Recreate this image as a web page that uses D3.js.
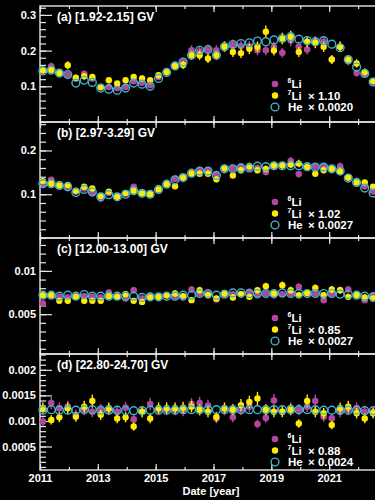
<!DOCTYPE html>
<html>
<head>
<meta charset="utf-8">
<script src="https://cdn.jsdelivr.net/npm/d3@7"></script>
<style>
  body { margin: 0; background: #000; }
  svg { display: block; }
  text { font-family: "Liberation Sans", Arial, sans-serif; font-weight: bold; fill: #fff; }
</style>
</head>
<body>
<div id="chart"></div>
<script>
// time of each averaging period (decimal year)
const dates = [
  2011.10, 2011.39, 2011.67, 2011.96, 2012.24, 2012.53, 2012.81, 2013.10, 2013.38, 2013.67,
  2013.96, 2014.24, 2014.53, 2014.81, 2015.10, 2015.38, 2015.67, 2015.95, 2016.24, 2016.52,
  2016.81, 2017.10, 2017.38, 2017.67, 2017.95, 2018.24, 2018.52, 2018.81, 2019.09, 2019.38,
  2019.67, 2019.95, 2020.24, 2020.52, 2020.81, 2021.09, 2021.38, 2021.66, 2021.95, 2022.23,
  2022.52
];

// (a) 1.92-2.15 GV
const li6A = [
  0.145, 0.156, 0.137, 0.133, 0.122, 0.135, 0.122, 0.097, 0.098, 0.095,
  0.098, 0.114, 0.110, 0.103, 0.126, 0.141, 0.158, 0.168, 0.201, 0.198,
  0.203, 0.201, 0.212, 0.216, 0.213, 0.212, 0.201, 0.201, 0.210, 0.194,
  0.228, 0.211, 0.203, 0.225, 0.225, 0.175, 0.211, 0.170, 0.137, 0.134,
  0.112
];
const li7A = [
  0.145, 0.146, 0.137, 0.159, 0.124, 0.128, 0.126, 0.098, 0.117, 0.108,
  0.117, 0.126, 0.122, 0.117, 0.131, 0.140, 0.157, 0.160, 0.187, 0.187,
  0.178, 0.187, 0.211, 0.196, 0.193, 0.205, 0.211, 0.253, 0.200, 0.234,
  0.239, 0.196, 0.225, 0.222, 0.211, 0.175, 0.211, 0.175, 0.164, 0.140,
  0.115
];
const heA = [
  0.143, 0.145, 0.137, 0.133, 0.109, 0.117, 0.111, 0.095, 0.092, 0.089,
  0.095, 0.109, 0.106, 0.100, 0.122, 0.139, 0.157, 0.168, 0.187, 0.201,
  0.203, 0.187, 0.211, 0.217, 0.220, 0.222, 0.227, 0.225, 0.230, 0.234,
  0.239, 0.232, 0.228, 0.225, 0.228, 0.218, 0.208, 0.175, 0.154, 0.136,
  0.112
];

// (b) 2.97-3.29 GV
const li6B = [
  0.127, 0.133, 0.120, 0.116, 0.106, 0.113, 0.103, 0.090, 0.103, 0.094,
  0.101, 0.117, 0.102, 0.100, 0.111, 0.123, 0.135, 0.138, 0.150, 0.155,
  0.155, 0.145, 0.158, 0.158, 0.163, 0.160, 0.160, 0.151, 0.163, 0.166,
  0.176, 0.146, 0.162, 0.163, 0.163, 0.158, 0.164, 0.138, 0.128, 0.118,
  0.106
];
const li7B = [
  0.130, 0.124, 0.120, 0.121, 0.108, 0.117, 0.113, 0.096, 0.106, 0.094,
  0.103, 0.108, 0.102, 0.100, 0.111, 0.123, 0.118, 0.138, 0.147, 0.147,
  0.147, 0.134, 0.160, 0.143, 0.155, 0.164, 0.155, 0.158, 0.166, 0.166,
  0.168, 0.170, 0.162, 0.147, 0.155, 0.158, 0.152, 0.138, 0.127, 0.127,
  0.117
];
const heB = [
  0.124, 0.124, 0.120, 0.117, 0.104, 0.111, 0.105, 0.094, 0.099, 0.094,
  0.100, 0.108, 0.102, 0.100, 0.111, 0.123, 0.133, 0.138, 0.148, 0.153,
  0.153, 0.143, 0.158, 0.158, 0.160, 0.160, 0.164, 0.163, 0.165, 0.165,
  0.165, 0.165, 0.163, 0.162, 0.162, 0.158, 0.153, 0.137, 0.127, 0.114,
  0.103
];

// (c) 12.00-13.00 GV
const li6C = [
  0.00623, 0.00719, 0.00700, 0.00693, 0.00708, 0.00708, 0.00700, 0.00693, 0.00750, 0.00708,
  0.00681, 0.00777, 0.00681, 0.00708, 0.00700, 0.00719, 0.00708, 0.00693, 0.00785, 0.00739,
  0.00739, 0.00670, 0.00731, 0.00731, 0.00731, 0.00758, 0.00719, 0.00739, 0.00719, 0.00731,
  0.00739, 0.00815, 0.00739, 0.00739, 0.00662, 0.00739, 0.00777, 0.00785, 0.00731, 0.00662,
  0.00719
];
const li7C = [
  0.00719, 0.00719, 0.00654, 0.00654, 0.00700, 0.00654, 0.00654, 0.00654, 0.00708, 0.00700,
  0.00731, 0.00654, 0.00642, 0.00693, 0.00700, 0.00719, 0.00739, 0.00708, 0.00662, 0.00777,
  0.00719, 0.00681, 0.00739, 0.00693, 0.00731, 0.00700, 0.00777, 0.00823, 0.00739, 0.00835,
  0.00777, 0.00719, 0.00746, 0.00804, 0.00719, 0.00785, 0.00777, 0.00700, 0.00719, 0.00693,
  0.00681
];
const heC = [
  0.00719, 0.00719, 0.00708, 0.00719, 0.00708, 0.00727, 0.00708, 0.00708, 0.00708, 0.00708,
  0.00708, 0.00708, 0.00693, 0.00700, 0.00700, 0.00708, 0.00708, 0.00719, 0.00719, 0.00739,
  0.00739, 0.00719, 0.00731, 0.00746, 0.00746, 0.00739, 0.00739, 0.00739, 0.00739, 0.00746,
  0.00739, 0.00739, 0.00739, 0.00739, 0.00739, 0.00739, 0.00731, 0.00727, 0.00719, 0.00708,
  0.00700
];

// (d) 22.80-24.70 GV
const li6D = [
  0.00099, 0.00135, 0.00125, 0.00128, 0.00112, 0.00122, 0.00118, 0.00122, 0.00122, 0.00118,
  0.00126, 0.00103, 0.00118, 0.00133, 0.00122, 0.00122, 0.00122, 0.00120, 0.00133, 0.00135,
  0.00130, 0.00105, 0.00122, 0.00107, 0.00122, 0.00128, 0.00094, 0.00106, 0.00140, 0.00118,
  0.00125, 0.00122, 0.00128, 0.00139, 0.00108, 0.00105, 0.00118, 0.00122, 0.00125, 0.00118,
  0.00118
];
const li7D = [
  0.00125, 0.00102, 0.00107, 0.00125, 0.00108, 0.00128, 0.00139, 0.00112, 0.00125, 0.00105,
  0.00107, 0.00089, 0.00118, 0.00105, 0.00125, 0.00125, 0.00125, 0.00126, 0.00128, 0.00122,
  0.00118, 0.00108, 0.00125, 0.00122, 0.00131, 0.00137, 0.00144, 0.00122, 0.00118, 0.00118,
  0.00122, 0.00095, 0.00139, 0.00118, 0.00115, 0.00092, 0.00125, 0.00128, 0.00115, 0.00105,
  0.00115
];
const heD = [
  0.00121, 0.00122, 0.00121, 0.00121, 0.00121, 0.00122, 0.00122, 0.00121, 0.00121, 0.00121,
  0.00120, 0.00120, 0.00120, 0.00121, 0.00121, 0.00121, 0.00121, 0.00122, 0.00122, 0.00122,
  0.00122, 0.00122, 0.00122, 0.00122, 0.00122, 0.00122, 0.00122, 0.00122, 0.00122, 0.00122,
  0.00122, 0.00122, 0.00122, 0.00122, 0.00121, 0.00121, 0.00121, 0.00121, 0.00121, 0.00120,
  0.00120
];

// relative error of the Li points in each panel
const relErr = [0.07, 0.05, 0.05, 0.09];

const panelLabels = ["(a) [1.92-2.15] GV", "(b) [2.97-3.29] GV", "(c) [12.00-13.00] GV", "(d) [22.80-24.70] GV"];
const li7Factors = ["1.10", "1.02", "0.85", "0.88"];
const heFactors = ["0.0020", "0.0027", "0.0027", "0.0024"];

const yearTicks = [2011, 2013, 2015, 2017, 2019, 2021, 2023];
const yearLabels = ["2011", "2013", "2015", "2017", "2019", "2021", "2023"];
const yTicks = [
  [0.1, 0.2, 0.3],
  [0.1, 0.2],
  [0.005, 0.01],
  [0.0005, 0.001, 0.0015, 0.002]
];
const yTickLabels = [
  ["0.1", "0.2", "0.3"],
  ["0.1", "0.2"],
  ["0.005", "0.01"],
  ["0.0005", "0.001", "0.0015", "0.002"]
];

const WIDTH = 375, HEIGHT = 500;
const LEFT = 40, RIGHT = 387;
const PANEL_TOP = 6, PANEL_H = 116;
const AXIS_COLOR = "#e6e6e6";
const C_LI6 = "#b3479f", C_LI7 = "#ffea00", C_HE = "#3fb3cc";
const R_LI6 = 3.3, R_LI7 = 3.2, R_HE = 3.9;

const panels = [
  { li6: li6A, li7: li7A, he: heA, domain: [0, 0.325], minor: 0.02, legendTop: 78 },
  { li6: li6B, li7: li7B, he: heB, domain: [0, 0.265], minor: 0.02, legendTop: 80 },
  { li6: li6C, li7: li7C, he: heC, domain: [0.0004, 0.0138], minor: 0.001, legendTop: 80 },
  { li6: li6D, li7: li7D, he: heD, domain: [0.00004, 0.00231], minor: 0.0001, legendTop: 85 }
];

const svg = d3.select("#chart").append("svg")
  .attr("width", WIDTH)
  .attr("height", HEIGHT)
  .style("background", "#000");

const x = d3.scaleLinear().domain([2011, 2023]).range([LEFT, RIGHT]);

const styleAxis = (sel) => {
  sel.select(".domain").remove();
  sel.selectAll(".tick line").attr("stroke", AXIS_COLOR).attr("stroke-width", 1.2);
  sel.selectAll(".tick text").attr("fill", "#fff").style("font-size", "11px");
};

panels.forEach((p, i) => {
  const top = PANEL_TOP + i * PANEL_H;
  const bottom = top + PANEL_H;
  const y = d3.scaleLinear().domain(p.domain).range([bottom, top]);
  const g = svg.append("g");

  const minorTicks = d3.range(Math.ceil(p.domain[0] / p.minor), Math.floor(p.domain[1] / p.minor) + 1)
    .map(k => +(k * p.minor).toPrecision(6));

  // minor y ticks, left and right
  g.append("g").attr("transform", `translate(${LEFT},0)`)
    .call(d3.axisLeft(y).tickValues(minorTicks).tickSize(-6).tickFormat(""))
    .call(styleAxis);
  g.append("g").attr("transform", `translate(${RIGHT},0)`)
    .call(d3.axisRight(y).tickValues(minorTicks).tickSize(-6).tickFormat(""))
    .call(styleAxis);
  // major y ticks with labels
  g.append("g").attr("transform", `translate(${LEFT},0)`)
    .call(d3.axisLeft(y).tickValues(yTicks[i]).tickSize(-12).tickPadding(4)
      .tickFormat((d, k) => yTickLabels[i][k]))
    .call(styleAxis);
  g.append("g").attr("transform", `translate(${RIGHT},0)`)
    .call(d3.axisRight(y).tickValues(yTicks[i]).tickSize(-12).tickFormat(""))
    .call(styleAxis);

  // x ticks top and bottom
  const years = d3.range(2011, 2024);
  g.append("g").attr("transform", `translate(0,${bottom})`)
    .call(d3.axisBottom(x).tickValues(years).tickSize(-3).tickFormat(""))
    .call(styleAxis);
  g.append("g").attr("transform", `translate(0,${top})`)
    .call(d3.axisTop(x).tickValues(years).tickSize(-3).tickFormat(""))
    .call(styleAxis);
  g.append("g").attr("transform", `translate(0,${top})`)
    .call(d3.axisTop(x).tickValues(yearTicks).tickSize(-6).tickFormat(""))
    .call(styleAxis);
  g.append("g").attr("transform", `translate(0,${bottom})`)
    .call(d3.axisBottom(x).tickValues(yearTicks).tickSize(-6).tickPadding(4)
      .tickFormat((d, k) => i === panels.length - 1 ? yearLabels[k] : ""))
    .call(styleAxis);

  // frame
  g.append("rect")
    .attr("x", LEFT).attr("y", top)
    .attr("width", RIGHT - LEFT).attr("height", PANEL_H)
    .attr("fill", "none")
    .attr("stroke", AXIS_COLOR)
    .attr("stroke-width", 1.4);

  // error bars and points
  const series = [
    { vals: p.li6, color: C_LI6, r: R_LI6 },
    { vals: p.li7, color: C_LI7, r: R_LI7 }
  ];
  series.forEach(s => {
    g.append("g").selectAll("line")
      .data(s.vals)
      .join("line")
      .attr("x1", (d, k) => x(dates[k]))
      .attr("x2", (d, k) => x(dates[k]))
      .attr("y1", d => y(d * (1 - relErr[i])))
      .attr("y2", d => y(d * (1 + relErr[i])))
      .attr("stroke", s.color)
      .attr("stroke-width", 1.4);
    g.append("g").selectAll("circle")
      .data(s.vals)
      .join("circle")
      .attr("cx", (d, k) => x(dates[k]))
      .attr("cy", d => y(d))
      .attr("r", s.r)
      .attr("fill", s.color);
  });
  g.append("g").selectAll("circle")
    .data(p.he)
    .join("circle")
    .attr("cx", (d, k) => x(dates[k]))
    .attr("cy", d => y(d))
    .attr("r", R_HE)
    .attr("fill", "none")
    .attr("stroke", C_HE)
    .attr("stroke-width", 1.4);

  // panel title
  g.append("text")
    .attr("x", 57)
    .attr("y", top + 15)
    .style("font-size", "12px")
    .text(panelLabels[i]);

  // legend
  const lx = 275, ly = top + p.legendTop, dy = 11.5;
  g.append("circle").attr("cx", lx).attr("cy", ly).attr("r", R_LI6).attr("fill", C_LI6);
  g.append("circle").attr("cx", lx).attr("cy", ly + dy).attr("r", R_LI7).attr("fill", C_LI7);
  g.append("circle").attr("cx", lx).attr("cy", ly + 2 * dy).attr("r", R_HE)
    .attr("fill", "none").attr("stroke", C_HE).attr("stroke-width", 1.4);

  const isoLabel = (yy, mass) => {
    const t = g.append("text").attr("x", 287.5).attr("y", yy + 4).style("font-size", "11.5px");
    t.append("tspan").attr("dy", -5).style("font-size", "7px").text(mass);
    t.append("tspan").attr("dy", 5).text("Li");
  };
  isoLabel(ly, "6");
  isoLabel(ly + dy, "7");
  g.append("text").attr("x", 288).attr("y", ly + 2 * dy + 4).style("font-size", "11.5px").text("He");
  g.append("text").attr("x", 308).attr("y", ly + dy + 4).style("font-size", "11.5px")
    .text("\u00d7 " + li7Factors[i]);
  g.append("text").attr("x", 308).attr("y", ly + 2 * dy + 4).style("font-size", "11.5px")
    .text("\u00d7 " + heFactors[i]);
});

// x axis title
svg.append("text")
  .attr("x", 211)
  .attr("y", 495)
  .attr("text-anchor", "middle")
  .style("font-size", "11px")
  .text("Date [year]");
</script>
</body>
</html>
